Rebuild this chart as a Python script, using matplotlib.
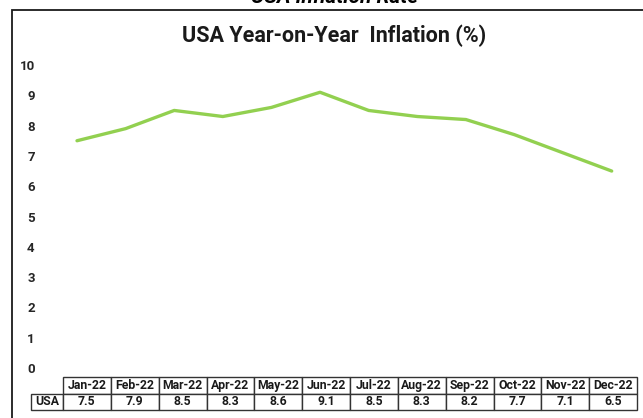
import matplotlib
matplotlib.use("Agg")
import matplotlib.pyplot as plt
from matplotlib.patches import Rectangle

# monthly year-on-year CPI inflation, 2022
months = ["Jan-22", "Feb-22", "Mar-22", "Apr-22", "May-22", "Jun-22",
          "Jul-22", "Aug-22", "Sep-22", "Oct-22", "Nov-22", "Dec-22"]
usa = [7.5, 7.9, 8.5, 8.3, 8.6, 9.1, 8.5, 8.3, 8.2, 7.7, 7.1, 6.5]
yticks = list(range(0, 11))

plt.rcParams["font.family"] = ["Roboto", "DejaVu Sans"]
W, H = 643, 418
fig = plt.figure(figsize=(W / 100, H / 100), dpi=100)


def px(x0, y0, x1, y1):
    # pixel box (top-left origin) -> figure rect
    return [x0 / W, 1 - y1 / H, (x1 - x0) / W, (y1 - y0) / H]


# page heading, partly scrolled off the top
fig.text(335 / W, 1 - 7 / H, "USA Inflation Rate", ha="center", va="bottom",
         fontsize=15, fontweight="bold", fontstyle="italic", color="black")

# chart frame
fig.patches.append(Rectangle((12 / W, -0.1), 1.2, 1 - 10 / H + 0.1,
                             transform=fig.transFigure, fill=False,
                             edgecolor="#1a1a1a", linewidth=1.3))

fig.text(334 / W, 1 - 36 / H, "USA Year-on-Year  Inflation (%)", ha="center",
         va="center", fontsize=15.5, fontweight="bold", color="#1a1a1a")

ax = fig.add_axes(px(52.7, 65, 636, 368))
ax.plot(range(len(months)), usa, color="#92D050", linewidth=2.4,
        solid_capstyle="round", solid_joinstyle="round")
ax.set_xlim(-0.5, len(months) - 0.5)
ax.set_ylim(0, 10)
ax.set_yticks(yticks)
ax.set_yticklabels([str(t) for t in yticks], fontsize=9.5, fontweight="bold",
                   color="#262626")
ax.tick_params(axis="y", length=0, pad=13)
ax.set_xticks([])
for s in ax.spines.values():
    s.set_visible(False)
ax.patch.set_alpha(0)

# data table under the plot
tax = fig.add_axes(px(31, 377, 637, 410))
tax.axis("off")
cells = [[""] + months, ["USA"] + [f"{v:.1f}" for v in usa]]
first_w = 32
col_w = (606 - first_w) / len(months)
widths = [first_w / 606] + [col_w / 606] * len(months)
tbl = tax.table(cellText=cells, colWidths=widths, cellLoc="center",
                bbox=[0, 0, 1, 1])
tbl.auto_set_font_size(False)
for (r, c), cell in tbl.get_celld().items():
    cell.set_edgecolor("#333333")
    cell.set_linewidth(1.0)
    cell.get_text().set_fontsize(8.8)
    cell.get_text().set_fontweight("bold")
    cell.get_text().set_color("#1a1a1a")
    if r == 0 and c == 0:
        cell.visible_edges = ""

fig.savefig("out.png", dpi=100)
